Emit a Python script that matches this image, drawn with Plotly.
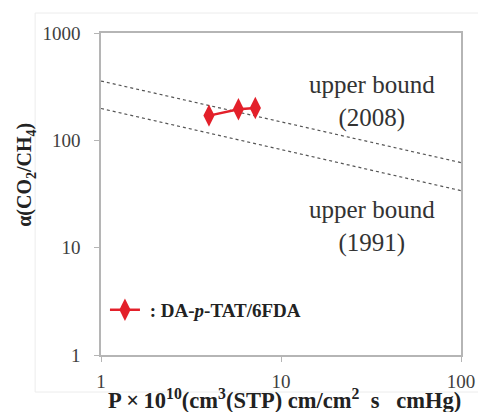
import plotly.graph_objects as go

# Data
perm = [3.98, 5.8, 7.2]            # P x 10^10 (Barrer)
alpha = [170, 195, 200]            # CO2/CH4 selectivity
series_name = "<b>\u00a0: DA-<i>p</i>-TAT/6FDA</b>"

ub2008_x = [1, 100]
ub2008_y = [357, 62]
ub1991_x = [1, 100]
ub1991_y = [198, 34]

x_ticks = [1, 10, 100]
y_ticks = [1, 10, 100, 1000]

serif = "Liberation Serif, Times New Roman, serif"

fig = go.Figure()
fig.add_trace(go.Scatter(x=ub2008_x, y=ub2008_y, mode="lines",
                         line=dict(color="#555555", width=1.2, dash="dot"),
                         showlegend=False, hoverinfo="skip"))
fig.add_trace(go.Scatter(x=ub1991_x, y=ub1991_y, mode="lines",
                         line=dict(color="#555555", width=1.2, dash="dot"),
                         showlegend=False, hoverinfo="skip"))
fig.add_trace(go.Scatter(x=perm, y=alpha, mode="lines+markers", name=series_name,
                         line=dict(color="#e3202a", width=2.5),
                         marker=dict(symbol="diamond-tall", size=16, color="#e3202a")))

axis_common = dict(type="log", showline=True, mirror=True, linecolor="#b5b5b5",
                   linewidth=1.5, showgrid=False, zeroline=False, ticks="outside",
                   ticklen=5, tickcolor="#b5b5b5", automargin=False,
                   tickfont=dict(family=serif, size=19, color="#404040"))

fig.update_xaxes(range=[0, 2], tickvals=x_ticks, ticktext=[str(v) for v in x_ticks],
                 ticklabelstandoff=3, **axis_common)
fig.update_yaxes(range=[0, 3], tickvals=y_ticks, ticktext=[str(v) for v in y_ticks],
                 ticklabelstandoff=10, **axis_common)

fig.add_annotation(text="upper bound<br>(2008)", xref="paper", yref="paper",
                   x=0.753, y=0.786, xanchor="center", yanchor="middle", showarrow=False,
                   font=dict(family=serif, size=25, color="#333333"))
fig.add_annotation(text="upper bound<br>(1991)", xref="paper", yref="paper",
                   x=0.753, y=0.398, xanchor="center", yanchor="middle", showarrow=False,
                   font=dict(family=serif, size=25, color="#333333"))

fig.add_annotation(text="<b>P\u2009×\u200910<sup>10</sup>(cm<sup>3</sup>(STP) cm/cm<sup>2</sup>\u00a0\u00a0s\u00a0\u00a0\u00a0cmHg)</b>",
                   xref="paper", yref="paper", x=0.51, y=-0.137,
                   xanchor="center", yanchor="middle",
                   showarrow=False, font=dict(family=serif, size=22.5, color="#222222"))
fig.add_annotation(text="<b>α(CO<sub>2</sub>/CH<sub>4</sub>)</b>",
                   xref="paper", yref="paper", x=-0.208, y=0.56, textangle=-90,
                   xanchor="center", yanchor="middle",
                   showarrow=False, font=dict(family=serif, size=20, color="#222222"))

fig.add_shape(type="rect", xref="paper", yref="paper",
              x0=-0.183, x1=1.06, y0=-0.115, y1=1.062,
              line=dict(color="#ececec", width=1), layer="below")

fig.update_layout(width=478, height=412,
                  margin=dict(l=101, r=17, t=33, b=57),
                  paper_bgcolor="white", plot_bgcolor="white",
                  showlegend=True,
                  legend=dict(x=0.011, y=0.14, xanchor="left", yanchor="middle",
                              bgcolor="rgba(0,0,0,0)",
                              font=dict(family=serif, size=19, color="#222222")))

# remove the default 8px page margin so the 478x412 figure fills the window exactly
fig.write_html("out.html", config={"displayModeBar": False},
               post_script="document.body.style.margin='0';document.body.style.overflow='hidden';")
